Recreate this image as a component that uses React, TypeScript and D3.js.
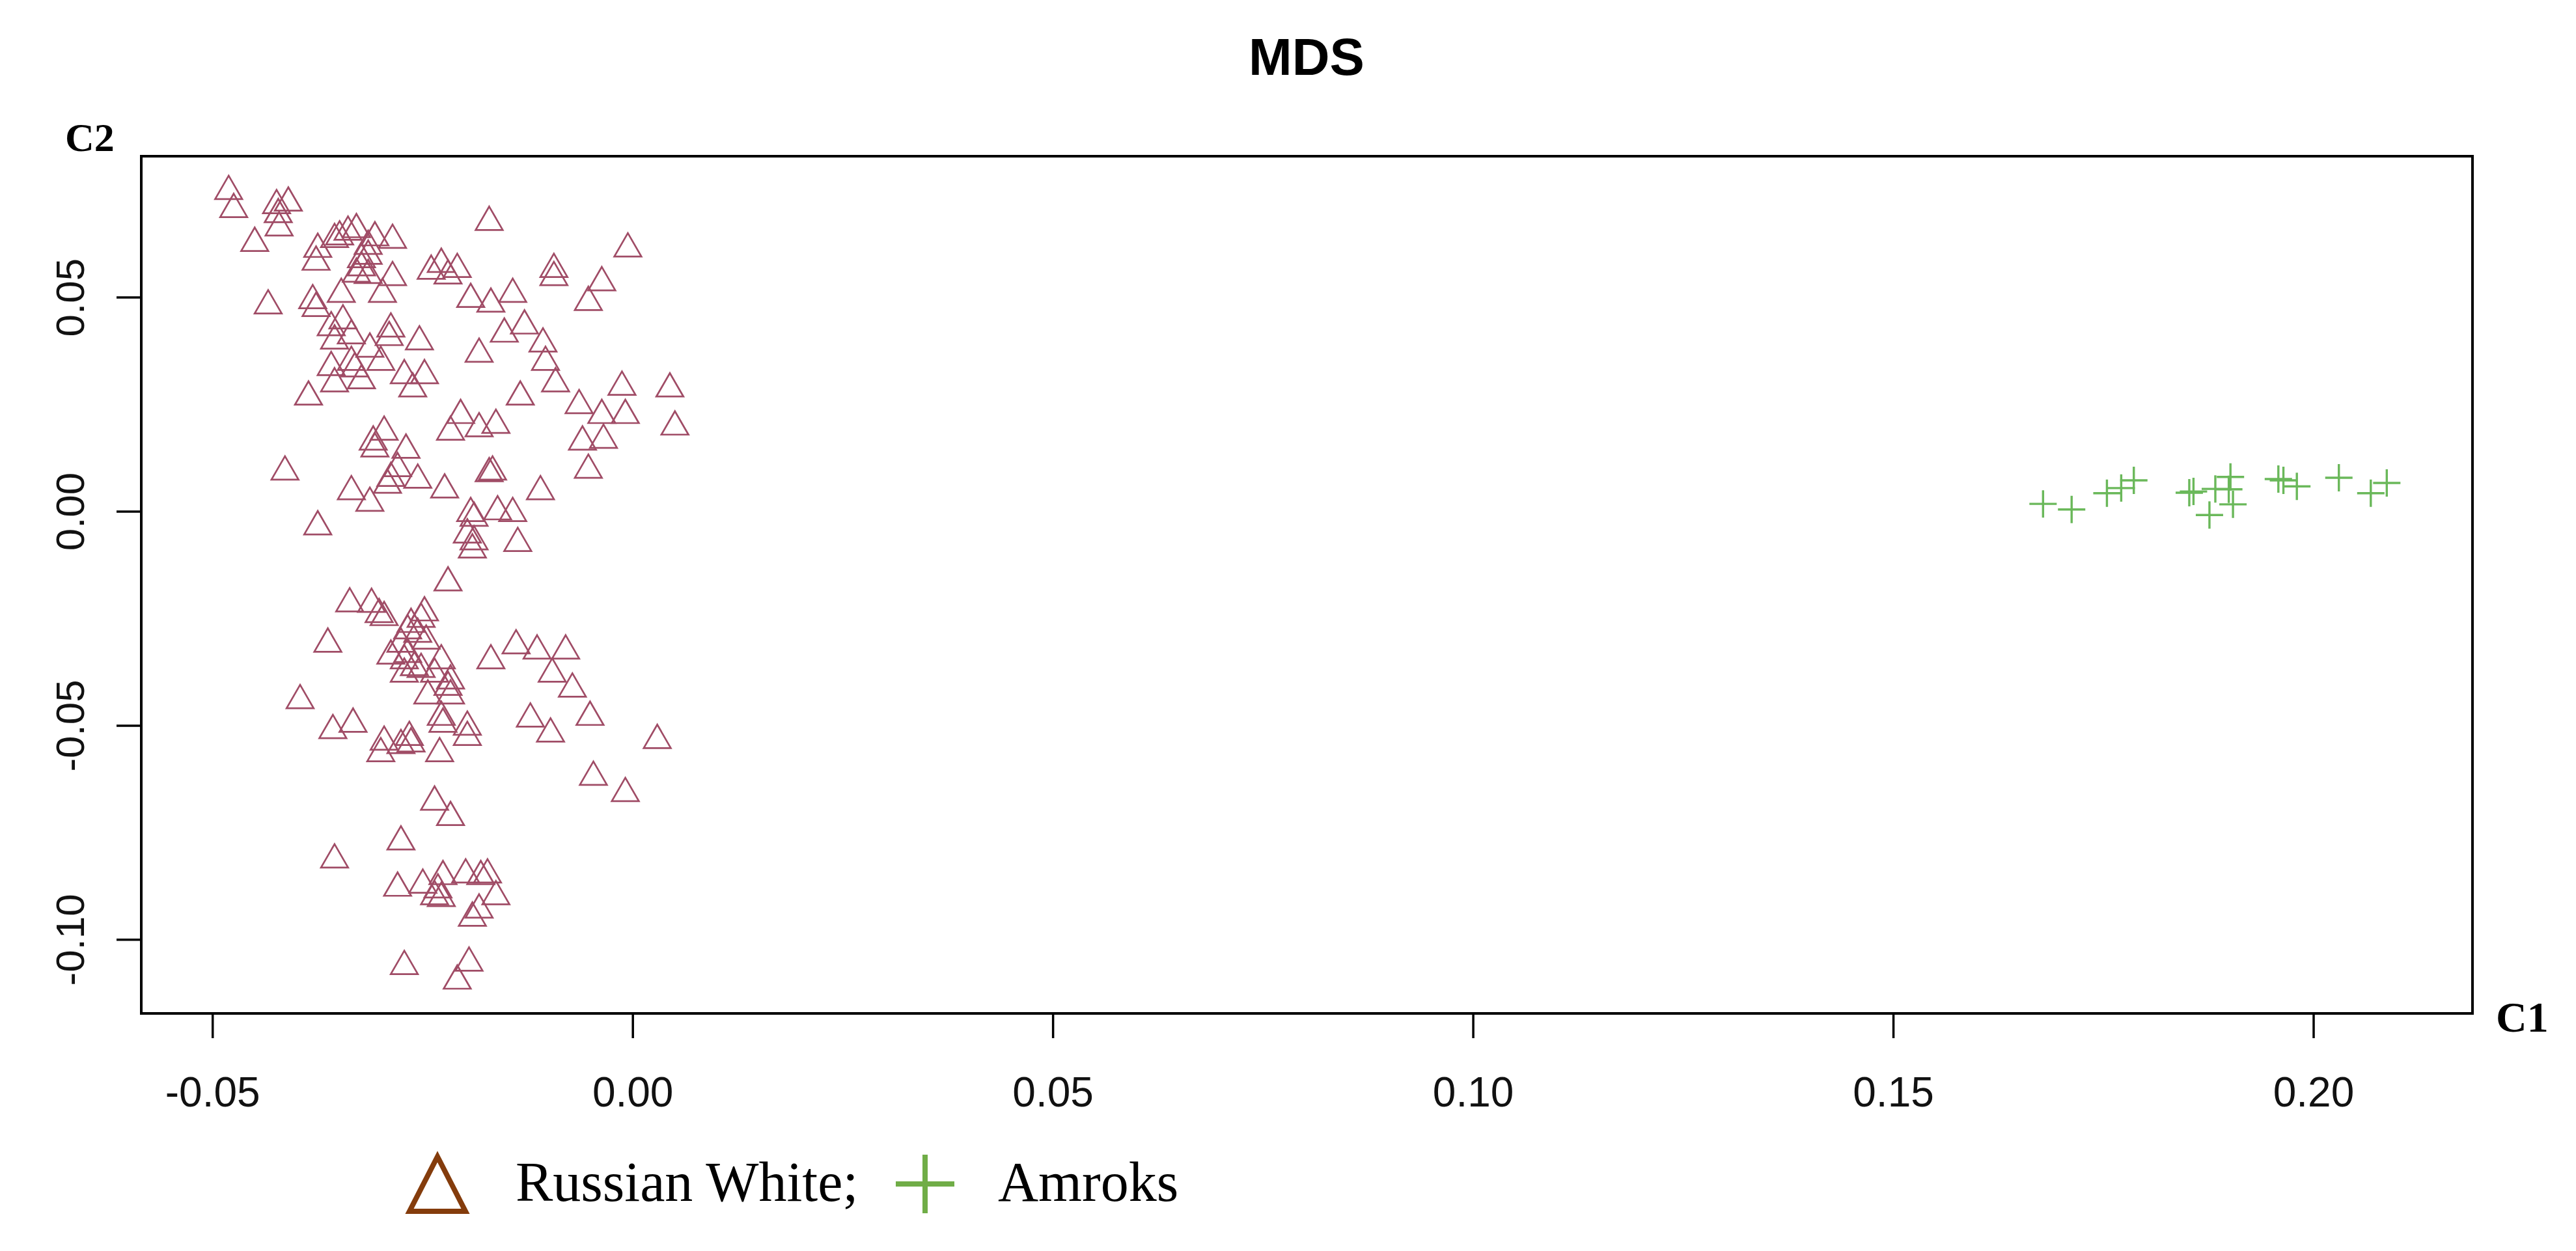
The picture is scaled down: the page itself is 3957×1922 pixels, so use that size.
import React from "react";
import * as d3 from "d3";

// ---- data ----
const russianWhiteX = [
  -0.0481, -0.0475, -0.0424, -0.0410, -0.0422, -0.0421, -0.0450, -0.0171, -0.0006, -0.0339,
  -0.0329, -0.0349, -0.0286, -0.0355, -0.0375, -0.0315, -0.0307, -0.0377, -0.0323, -0.0323,
  -0.0315, -0.0329, -0.0315, -0.0286, -0.0240, -0.0228, -0.0220, -0.0209, -0.0094, -0.0094,
  -0.0037, -0.0434, -0.0381, -0.0377, -0.0347, -0.0298, -0.0193, -0.0169, -0.0143, -0.0053,
  -0.0359, -0.0355, -0.0345, -0.0335, -0.0313, -0.0288, -0.0290, -0.0254, -0.0153, -0.0129,
  -0.0107, -0.0183, -0.0359, -0.0355, -0.0335, -0.0331, -0.0323, -0.0300, -0.0272, -0.0262,
  -0.0248, -0.0104, -0.0092, -0.0386, -0.0134, -0.0064, -0.0037, -0.0013, 0.0044, -0.0009,
  -0.0205, -0.0217, -0.0183, -0.0163, 0.0050, -0.0060, -0.0035, -0.0296, -0.0309, -0.0307,
  -0.0270, -0.0053, -0.0414, -0.0280, -0.0288, -0.0292, -0.0256, -0.0171, -0.0167, -0.0335,
  -0.0313, -0.0224, -0.0110, -0.0193, -0.0189, -0.0161, -0.0143, -0.0375, -0.0197, -0.0189,
  -0.0137, -0.0191,
  -0.0220, -0.0337, -0.0311, -0.0302, -0.0296, -0.0248, -0.0252, -0.0264, -0.0268, -0.0256,
  -0.0246, -0.0276, -0.0288, -0.0268, -0.0272, -0.0260, -0.0272, -0.0252, -0.0228, -0.0236,
  -0.0217, -0.0244, -0.0217, -0.0220, -0.0363, -0.0169, -0.0139, -0.0114, -0.0080, -0.0096,
  -0.0072, -0.0396, -0.0357, -0.0333, -0.0226, -0.0228, -0.0197, -0.0197, -0.0122, -0.0098,
  -0.0051, 0.0029, -0.0296, -0.0300, -0.0276, -0.0266, -0.0264, -0.0230, -0.0047, -0.0009,
  -0.0236, -0.0217, -0.0276, -0.0355, -0.0280, -0.0250, -0.0226, -0.0236, -0.0228, -0.0232,
  -0.0199, -0.0181, -0.0173, -0.0163, -0.0183, -0.0191, -0.0272, -0.0195, -0.0209,
];
const russianWhiteY = [
  0.0748, 0.0706, 0.0715, 0.0721, 0.0694, 0.0663, 0.0627, 0.0676, 0.0614, 0.0653,
  0.0659, 0.0642, 0.0634, 0.0636, 0.0613, 0.0620, 0.0640, 0.0583, 0.0589, 0.0570,
  0.0597, 0.0555, 0.0552, 0.0547, 0.0562, 0.0578, 0.0551, 0.0566, 0.0566, 0.0547,
  0.0535, 0.0481, 0.0493, 0.0475, 0.0508, 0.0508, 0.0496, 0.0485, 0.0508, 0.0489,
  0.0430, 0.0399, 0.0446, 0.0411, 0.0380, 0.0427, 0.0407, 0.0397, 0.0415, 0.0434,
  0.0392, 0.0368, 0.0337, 0.0299, 0.0349, 0.0334, 0.0306, 0.0349, 0.0318, 0.0287,
  0.0318, 0.0349, 0.0299, 0.0268, 0.0268, 0.0248, 0.0225, 0.0291, 0.0287, 0.0225,
  0.0225, 0.0186, 0.0194, 0.0202, 0.0198, 0.0163, 0.0167, 0.0186, 0.0163, 0.0147,
  0.0144, 0.0097, 0.0093, 0.0101, 0.0078, 0.0062, 0.0074, 0.0089, 0.0093, 0.0047,
  0.0020, 0.0051, 0.0047, -0.0004, -0.0015, 0.0000, -0.0004, -0.0035, -0.0054, -0.0070,
  -0.0074, -0.0089,
  -0.0166, -0.0215, -0.0216, -0.0240, -0.0247, -0.0236, -0.0251, -0.0263, -0.0278, -0.0286,
  -0.0302, -0.0309, -0.0337, -0.0333, -0.0348, -0.0364, -0.0379, -0.0368, -0.0348, -0.0379,
  -0.0395, -0.0430, -0.0430, -0.0410, -0.0309, -0.0348, -0.0313, -0.0325, -0.0325, -0.0379,
  -0.0414, -0.0441, -0.0511, -0.0496, -0.0496, -0.0480, -0.0503, -0.0527, -0.0484, -0.0519,
  -0.0480, -0.0534, -0.0538, -0.0565, -0.0546, -0.0527, -0.0542, -0.0565, -0.0620, -0.0658,
  -0.0678, -0.0714, -0.0771, -0.0813, -0.0879, -0.0872, -0.0852, -0.0899, -0.0903, -0.0883,
  -0.0848, -0.0852, -0.0848, -0.0899, -0.0930, -0.0949, -0.1062, -0.1054, -0.1096,
];
const amroksX = [
  0.1678, 0.1712, 0.1754, 0.1771, 0.1786, 0.1852, 0.1857, 0.1876, 0.1883, 0.1899,
  0.1901, 0.1904, 0.1958, 0.1964, 0.1980, 0.2030, 0.2068, 0.2087,
];
const amroksY = [
  0.0018, 0.0005, 0.0043, 0.0055, 0.0073, 0.0044, 0.0047, -0.0008, 0.0053, 0.0052,
  0.0081, 0.0017, 0.0076, 0.0073, 0.0059, 0.0079, 0.0043, 0.0067,
];
const xTicks = [-0.05, 0.0, 0.05, 0.1, 0.15, 0.2];
const xTickLabels = ["-0.05", "0.00", "0.05", "0.10", "0.15", "0.20"];
const yTicks = [-0.1, -0.05, 0.0, 0.05];
const yTickLabels = ["-0.10", "-0.05", "0.00", "0.05"];
const titleText = "MDS";
const xAxisName = "C1";
const yAxisName = "C2";
const legendLabels = ["Russian White;", "Amroks"];

const W = 3957;
const H = 1922;
const plot = { left: 217, right: 3798, top: 240, bottom: 1557 };

export default function App() {
  const x = d3.scaleLinear().domain([-0.0585, 0.2189]).range([plot.left, plot.right]);
  const y = d3.scaleLinear().domain([0.083, -0.1172]).range([plot.top, plot.bottom]);

  const triR = 24; // circumradius of the point triangles
  const triPath = (cx: number, cy: number, r: number) => {
    const hw = (r * Math.sqrt(3)) / 2;
    const p = d3.path();
    p.moveTo(cx, cy - r);
    p.lineTo(cx + hw, cy + r / 2);
    p.lineTo(cx - hw, cy + r / 2);
    p.closePath();
    return p.toString();
  };
  const plusPath = (cx: number, cy: number, a: number) => {
    const p = d3.path();
    p.moveTo(cx - a, cy);
    p.lineTo(cx + a, cy);
    p.moveTo(cx, cy - a);
    p.lineTo(cx, cy + a);
    return p.toString();
  };

  const triColor = "#A04C66";
  const plusColor = "#6AB85A";
  const sans = "'Liberation Sans', Arial, Helvetica, sans-serif";
  const serif = "'Liberation Serif', 'Times New Roman', serif";

  return (
    <svg
      width={W}
      height={H}
      viewBox={`0 0 ${W} ${H}`}
      style={{ position: "absolute", left: 0, top: 0, display: "block", background: "#fff" }}
    >
      <rect x={0} y={0} width={W} height={H} fill="#fff" />
      <text
        x={2007}
        y={115}
        textAnchor="middle"
        fontFamily={sans}
        fontWeight="bold"
        fontSize={80}
        fill="#000"
      >
        {titleText}
      </text>

      {/* points */}
      <g fill="none" stroke={triColor} strokeWidth={2.7} strokeLinejoin="miter">
        {russianWhiteX.map((v, i) => (
          <path key={"t" + i} d={triPath(x(v), y(russianWhiteY[i]), triR)} />
        ))}
      </g>
      <g fill="none" stroke={plusColor} strokeWidth={3.4}>
        {amroksX.map((v, i) => (
          <path key={"p" + i} d={plusPath(x(v), y(amroksY[i]), 21)} />
        ))}
      </g>

      {/* box */}
      <rect
        x={plot.left}
        y={plot.top}
        width={plot.right - plot.left}
        height={plot.bottom - plot.top}
        fill="none"
        stroke="#000"
        strokeWidth={4}
      />

      {/* x axis ticks */}
      <g>
        {xTicks.map((t, i) => (
          <g key={"xt" + i}>
            <line x1={x(t)} x2={x(t)} y1={plot.bottom} y2={plot.bottom + 38} stroke="#000" strokeWidth={3.5} />
            <text
              x={x(t)}
              y={1700}
              textAnchor="middle"
              fontFamily={sans}
              fontSize={64}
              fill="#111"
            >
              {xTickLabels[i]}
            </text>
          </g>
        ))}
      </g>

      {/* y axis ticks */}
      <g>
        {yTicks.map((t, i) => (
          <g key={"yt" + i}>
            <line x1={plot.left - 38} x2={plot.left} y1={y(t)} y2={y(t)} stroke="#000" strokeWidth={3.5} />
            <text
              transform={`translate(129, ${y(t)}) rotate(-90)`}
              textAnchor="middle"
              fontFamily={sans}
              fontSize={62}
              fill="#111"
            >
              {yTickLabels[i]}
            </text>
          </g>
        ))}
      </g>

      {/* axis names */}
      <text x={100} y={232} fontFamily={serif} fontWeight="bold" fontSize={62} fill="#000">
        {yAxisName}
      </text>
      <text x={3834} y={1585} fontFamily={serif} fontWeight="bold" fontSize={66} fill="#000">
        {xAxisName}
      </text>

      {/* legend */}
      <g>
        <path
          d={(() => {
            const p = d3.path();
            p.moveTo(672, 1777);
            p.lineTo(715, 1861);
            p.lineTo(629, 1861);
            p.closePath();
            return p.toString();
          })()}
          fill="none"
          stroke="#843C0C"
          strokeWidth={8}
          strokeLinejoin="miter"
        />
        <text x={792} y={1845} fontFamily={serif} fontSize={86} fill="#000">
          {legendLabels[0]}
        </text>
        <path d={plusPath(1421, 1819, 45)} stroke="#70AD47" strokeWidth={8} fill="none" />
        <text x={1533} y={1845} fontFamily={serif} fontSize={86} fill="#000">
          {legendLabels[1]}
        </text>
      </g>
    </svg>
  );
}
